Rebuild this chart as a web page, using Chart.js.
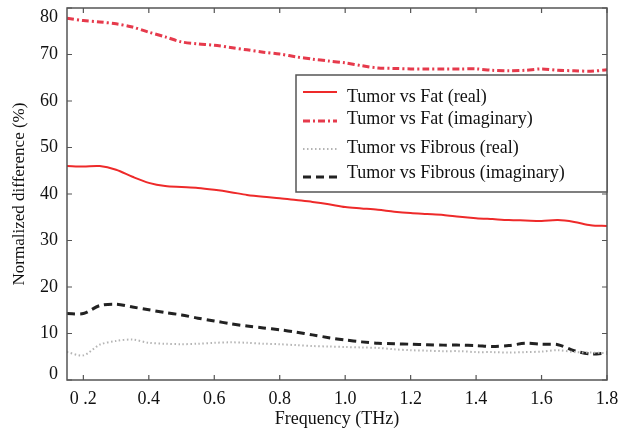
<!DOCTYPE html>
<html><head><meta charset="utf-8">
<script src="https://cdn.jsdelivr.net/npm/chart.js@4/dist/chart.umd.min.js"></script>
<style>html,body{margin:0;padding:0;background:#fff}#wrap{width:621px;height:430px}</style>
</head><body><div id="wrap"><canvas id="c" width="621" height="430"></canvas></div>
<script>
// ---- data ----
const freq = [0.15,0.2,0.25,0.3,0.35,0.4,0.45,0.5,0.55,0.6,0.65,0.7,0.75,0.8,0.85,0.9,0.95,1.0,1.05,1.1,1.15,1.2,1.25,1.3,1.35,1.4,1.45,1.5,1.55,1.6,1.65,1.7,1.75,1.8];
const fatReal = [46.0,45.9,46.0,45.2,43.7,42.4,41.7,41.5,41.3,40.9,40.4,39.8,39.4,39.1,38.7,38.3,37.8,37.2,36.9,36.6,36.2,35.9,35.7,35.5,35.1,34.8,34.6,34.4,34.3,34.2,34.4,34.0,33.3,33.1];
const fatImag = [77.8,77.3,77.0,76.6,75.9,74.8,73.8,72.7,72.3,72.0,71.5,71.0,70.5,70.1,69.5,69.0,68.6,68.2,67.6,67.1,67.0,66.9,66.9,66.9,66.9,66.9,66.6,66.5,66.6,66.9,66.6,66.5,66.4,66.7];
const fibReal = [6.0,5.3,7.6,8.4,8.7,8.0,7.8,7.7,7.8,8.0,8.1,8.0,7.8,7.7,7.5,7.3,7.2,7.1,7.0,6.9,6.6,6.4,6.3,6.2,6.2,6.0,6.0,5.9,6.0,6.1,6.4,6.0,5.9,5.8];
const fibImag = [14.3,14.3,16.0,16.3,15.7,15.1,14.5,14.0,13.3,12.7,12.1,11.6,11.2,10.8,10.3,9.7,9.1,8.6,8.2,7.9,7.8,7.7,7.6,7.5,7.5,7.4,7.2,7.4,7.9,7.7,7.6,6.3,5.6,5.8];
const seriesLabels = ['Tumor vs Fat (real)','Tumor vs Fat (imaginary)','Tumor vs Fibrous (real)','Tumor vs Fibrous (imaginary)'];
const xTicks = [0.2,0.4,0.6,0.8,1.0,1.2,1.4,1.6,1.8];
const xTickLabels = ['0 .2','0.4','0.6','0.8','1.0','1.2','1.4','1.6','1.8'];
const yTicks = [0,10,20,30,40,50,60,70,80];

const FONT = 'Liberation Serif';
const pts = arr => arr.map((v,i)=>({x:freq[i], y:v}));

const frame = {
  id:'frame',
  afterDatasetsDraw(chart){
    const {ctx, chartArea:a, scales:{x,y}} = chart;
    ctx.save();
    ctx.strokeStyle = '#555'; ctx.lineWidth = 1.5;
    ctx.strokeRect(a.left, a.top, a.right-a.left, a.bottom-a.top);
    ctx.lineWidth = 1.2;
    ctx.beginPath();
    xTicks.forEach(v=>{const p=x.getPixelForValue(v);
      ctx.moveTo(p,a.bottom); ctx.lineTo(p,a.bottom-5);
      ctx.moveTo(p,a.top); ctx.lineTo(p,a.top+5);});
    yTicks.forEach(v=>{const p=y.getPixelForValue(v);
      ctx.moveTo(a.left,p); ctx.lineTo(a.left+5,p);
      ctx.moveTo(a.right,p); ctx.lineTo(a.right-5,p);});
    ctx.stroke();
    ctx.restore();
  },
  afterDraw(chart){
    const {ctx, chartArea:a} = chart;
    const box = {l:296, t:75, r:a.right, b:192};
    const lineY = [92,121,149,177];
    const baseY = [102,124,153,178];
    ctx.save();
    ctx.fillStyle = '#fff';
    ctx.fillRect(box.l, box.t, box.r-box.l, box.b-box.t);
    ctx.strokeStyle = '#555'; ctx.lineWidth = 1.5;
    ctx.strokeRect(box.l, box.t, box.r-box.l, box.b-box.t);
    chart.data.datasets.forEach((ds,i)=>{
      ctx.save();
      ctx.strokeStyle = ds.borderColor; ctx.lineWidth = ds.borderWidth;
      ctx.setLineDash(ds.borderDash||[]);
      ctx.beginPath(); ctx.moveTo(303,lineY[i]); ctx.lineTo(337,lineY[i]); ctx.stroke();
      ctx.restore();
      ctx.fillStyle = '#111';
      ctx.font = '18px "'+FONT+'"';
      ctx.textBaseline = 'alphabetic'; ctx.textAlign = 'left';
      ctx.fillText(ds.label, 347, baseY[i]);
    });
    ctx.restore();
  }
};

new Chart(document.getElementById('c'), {
  type:'line',
  data:{datasets:[
    {label:seriesLabels[0], data:pts(fatReal), borderColor:'#ee2a2a', borderWidth:2, borderDash:[], pointRadius:0, tension:0.3, fill:false},
    {label:seriesLabels[1], data:pts(fatImag), borderColor:'#e63a4c', borderWidth:3, borderDash:[7,3,2,3], pointRadius:0, tension:0.3, fill:false},
    {label:seriesLabels[2], data:pts(fibReal), borderColor:'#b4b4b4', borderWidth:2, borderDash:[1.5,2.5], pointRadius:0, tension:0.3, fill:false},
    {label:seriesLabels[3], data:pts(fibImag), borderColor:'#222', borderWidth:3, borderDash:[8,5], pointRadius:0, tension:0.3, fill:false}
  ]},
  options:{
    responsive:false, animation:false, devicePixelRatio:1,
    layout:{padding:{left:0, top:8, right:14, bottom:0}},
    plugins:{legend:{display:false}, tooltip:{enabled:false}},
    scales:{
      x:{type:'linear', min:0.15, max:1.8,
        afterBuildTicks:s=>{s.ticks = xTicks.map(v=>({value:v}));},
        afterFit:s=>{s.height=50; s.paddingLeft=0; s.paddingRight=0;},
        grid:{display:false, drawTicks:false}, border:{display:false},
        ticks:{autoSkip:false, maxRotation:0, padding:8, color:'#111',
          font:{family:FONT, size:18},
          callback:(v,i)=>xTickLabels[i]},
        title:{display:true, text:'Frequency (THz)', color:'#111', padding:0, font:{family:FONT, size:18}}
      },
      y:{min:0, max:80,
        afterBuildTicks:s=>{s.ticks = yTicks.map(v=>({value:v}));},
        afterFit:s=>{s.width=67; s.paddingTop=0; s.paddingBottom=0;},
        grid:{display:false, drawTicks:false}, border:{display:false},
        ticks:{padding:9, color:'#111',
          font:c=>({family:FONT, size:18, lineHeight:(c.tick && c.tick.value===80)?'18px':((c.tick && c.tick.value===0)?'12px':1.2)}),
          callback:v=> v===80 ? ['', String(v)] : (v===0 ? [String(v), ''] : String(v))},
        title:{display:true, text:'Normalized difference (%)', color:'#111', padding:{top:9,bottom:0}, font:{family:FONT, size:17}}
      }
    }
  },
  plugins:[frame]
});
</script></body></html>
